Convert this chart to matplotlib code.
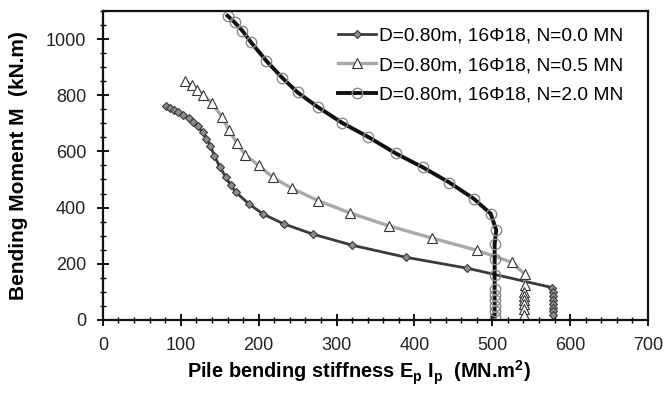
"""Pile bending moment vs bending stiffness for three axial loads."""
import matplotlib

matplotlib.use("Agg")
import matplotlib.pyplot as plt
from matplotlib.ticker import MultipleLocator

plt.rcParams["font.family"] = ["Liberation Sans", "DejaVu Sans"]

# N = 0.0 MN (diamonds)
ei_n00 = [81, 86, 91, 97, 103, 110, 116, 122, 128, 133, 138, 143, 150, 158, 164, 171,
          187, 205, 232, 270, 320, 389, 468, 577, 578, 578, 578, 578, 578, 578, 578]
m_n00 = [763, 755, 748, 740, 730, 718, 706, 690, 668, 645, 620, 585, 545, 508, 480, 454,
         414, 378, 342, 305, 266, 223, 184, 115, 98, 84, 70, 56, 42, 30, 18]

# N = 0.5 MN (triangles)
ei_n05 = [106, 114, 121, 128, 140, 153, 162, 172, 183, 200, 218, 243, 276, 317, 367,
          423, 480, 525, 542, 542, 541, 541, 541, 541, 541, 541]
m_n05 = [849, 835, 820, 802, 773, 722, 676, 629, 587, 550, 508, 468, 425, 381, 335,
         291, 248, 205, 162, 126, 100, 85, 70, 55, 38, 18]

# N = 2.0 MN (circles)
ei_n20 = [160, 169, 179, 190, 210, 230, 250, 276, 307, 341, 376, 411, 445, 476, 498,
          505, 503, 503, 503, 503, 503, 503, 503, 503, 503]
m_n20 = [1083, 1060, 1030, 989, 922, 863, 810, 758, 702, 651, 593, 543, 489, 432, 378,
         320, 270, 216, 160, 110, 90, 70, 50, 30, 12]

labels = ["D=0.80m, 16\u03a618, N=0.0 MN",
          "D=0.80m, 16\u03a618, N=0.5 MN",
          "D=0.80m, 16\u03a618, N=2.0 MN"]

fig = plt.figure(figsize=(6.64, 3.93), dpi=100)
ax = fig.add_axes([0.155, 0.186, 0.821, 0.786])

ax.plot(ei_n00, m_n00, color="#3a3a3a", lw=2.0, marker="D", ms=4.5,
        mfc="#8c8c8c", mec="#3a3a3a", mew=0.8, label=labels[0])
ax.plot(ei_n05, m_n05, color="#a8a8a8", lw=2.4, marker="^", ms=7,
        mfc="white", mec="#333333", mew=0.8, label=labels[1])
ax.plot(ei_n20, m_n20, color="#111111", lw=2.8, marker="o", ms=7.5,
        mfc="none", mec="#8a8a8a", mew=1.0, label=labels[2])

ax.set_xlim(0, 700)
ax.set_ylim(0, 1100)
ax.xaxis.set_major_locator(MultipleLocator(100))
ax.xaxis.set_minor_locator(MultipleLocator(20))
ax.yaxis.set_major_locator(MultipleLocator(200))
ax.yaxis.set_minor_locator(MultipleLocator(50))
ax.tick_params(which="major", direction="inout", length=8, width=1.3,
               labelsize=13, labelcolor="#222222", pad=8)
ax.tick_params(which="minor", direction="inout", length=4, width=1.0)
for s in ax.spines.values():
    s.set_visible(True)
    s.set_color("#111111")
    s.set_linewidth(1.6)

ax.set_xlabel("Pile bending stiffness E$_\\mathregular{p}$ I$_\\mathregular{p}$  (MN.m$^\\mathregular{2}$)",
              fontsize=14.4, fontweight="bold")
ax.set_ylabel("Bending Moment M  (kN.m)", fontsize=15, fontweight="bold")
ax.xaxis.set_label_coords(0.47, -0.124)
ax.yaxis.set_label_coords(-0.138, 0.5)

ax.legend(loc="upper right", bbox_to_anchor=(0.969, 0.972), frameon=False,
          fontsize=13.8, handlelength=2.0, handletextpad=0.15,
          borderaxespad=0, labelspacing=0.62)

plt.savefig("out.png", dpi=100)
plt.close()
